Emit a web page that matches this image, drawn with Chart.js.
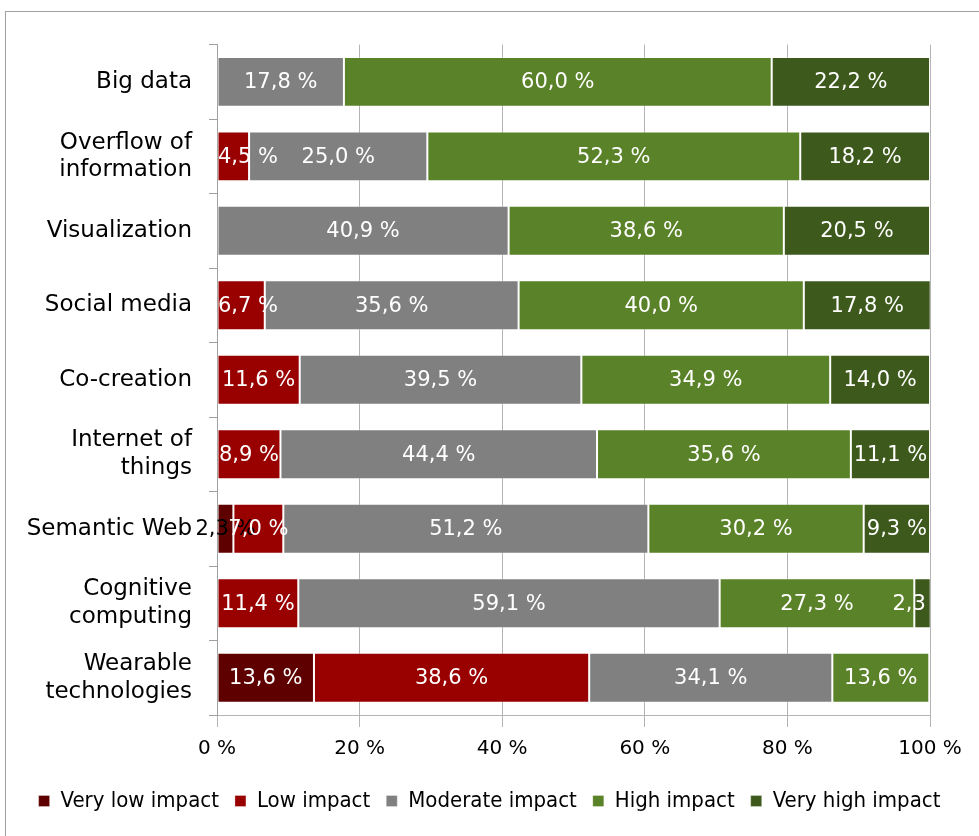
<!DOCTYPE html>
<html>
<head>
<meta charset="utf-8">
<script src="https://cdn.jsdelivr.net/npm/chart.js"></script>
<style>
  body { margin: 0; background: #fff; }
  #frame { position: absolute; left: 5px; top: 11px; width: 990px; height: 840px; border: 1px solid #a0a0a0; }
  #wrap { position: absolute; left: 0; top: 0; width: 979px; height: 836px; }
</style>
</head>
<body>
<div id="frame"></div>
<div id="wrap"><canvas id="chart" width="979" height="836"></canvas></div>
<script>
const categories = [
  "Big data",
  ["Overflow of", "information"],
  "Visualization",
  "Social media",
  "Co-creation",
  ["Internet of", "things"],
  "Semantic Web",
  ["Cognitive", "computing"],
  ["Wearable", "technologies"],
];

const veryLow = [0, 0, 0, 0, 0, 0, 2.3, 0, 13.6];
const low = [0, 4.5, 0, 6.7, 11.6, 8.9, 7.0, 11.4, 38.6];
const moderate = [17.8, 25.0, 40.9, 35.6, 39.5, 44.4, 51.2, 59.1, 34.1];
const high = [60.0, 52.3, 38.6, 40.0, 34.9, 35.6, 30.2, 27.3, 13.6];
const veryHigh = [22.2, 18.2, 20.5, 17.8, 14.0, 11.1, 9.3, 2.3, 0];

const FONT = "'DejaVu Sans', sans-serif";
const NARROW = "'DejaVu Sans Condensed', 'DejaVu Sans', sans-serif";

// draws the value labels in the middle of each segment
const barLabels = {
  id: "barLabels",
  afterDatasetsDraw(chart) {
    const ctx = chart.ctx;
    const area = chart.chartArea;
    ctx.save();
    ctx.beginPath();
    ctx.rect(0, 0, area.right, chart.height);
    ctx.clip();
    ctx.font = "21px " + FONT;
    ctx.textAlign = "center";
    ctx.textBaseline = "middle";
    chart.data.datasets.forEach((ds, i) => {
      const meta = chart.getDatasetMeta(i);
      meta.data.forEach((bar, j) => {
        const v = ds.data[j];
        if (!v) return;
        const txt = v.toFixed(1).replace(".", ",") + " %";
        const w = ctx.measureText(txt).width;
        let cx = (bar.x + bar.base) / 2;
        const dark = i === 0 && v < 5;
        if (!dark && cx - w / 2 < area.left + 1) cx = area.left + 1 + w / 2;
        ctx.fillStyle = dark ? "#000" : "#fff";
        ctx.fillText(txt, cx, bar.y + 1);
      });
    });
    ctx.restore();
  },
};

const makeSet = (label, data, color) => ({
  label,
  data,
  backgroundColor: color,
  borderColor: "rgba(255,255,255,0.3)",
  borderWidth: 1,
  borderSkipped: false,
  barPercentage: 0.67,
  categoryPercentage: 1,
});

new Chart(document.getElementById("chart"), {
  type: "bar",
  data: {
    labels: categories,
    datasets: [
      makeSet("Very low impact", veryLow, "#5e0000"),
      makeSet("Low impact", low, "#990000"),
      makeSet("Moderate impact", moderate, "#808080"),
      makeSet("High impact", high, "#5a8228"),
      makeSet("Very high impact", veryHigh, "#3d5a1c"),
    ],
  },
  options: {
    indexAxis: "y",
    responsive: false,
    animation: false,
    layout: { padding: { left: 0, right: 0, top: 32, bottom: 14 } },
    scales: {
      x: {
        stacked: true,
        min: 0,
        max: 100,
        afterFit: (axis) => {
          axis.height = 59;
          axis.paddingRight = 49;
        },
        ticks: {
          stepSize: 20,
          callback: (v) => v + " %",
          color: "#000",
          font: { family: FONT, size: 20 },
          padding: 10,
        },
        grid: { color: "#b4b4b4", tickLength: 12, lineWidth: 1 },
        border: { color: "#b4b4b4" },
      },
      y: {
        stacked: true,
        afterFit: (axis) => { axis.width = 217; },
        ticks: {
          color: "#000",
          font: { family: FONT, size: 23 },
          padding: 17,
        },
        grid: { drawOnChartArea: false, color: "#a0a0a0", tickLength: 8, offset: true },
        border: { color: "#a0a0a0" },
      },
    },
    plugins: {
      legend: {
        position: "bottom",
        labels: {
          color: "#000",
          font: { family: NARROW, size: 22 },
          boxWidth: 11,
          boxHeight: 11,
          padding: 16,
        },
      },
      tooltip: { enabled: false },
    },
  },
  plugins: [barLabels],
});
</script>
</body>
</html>
